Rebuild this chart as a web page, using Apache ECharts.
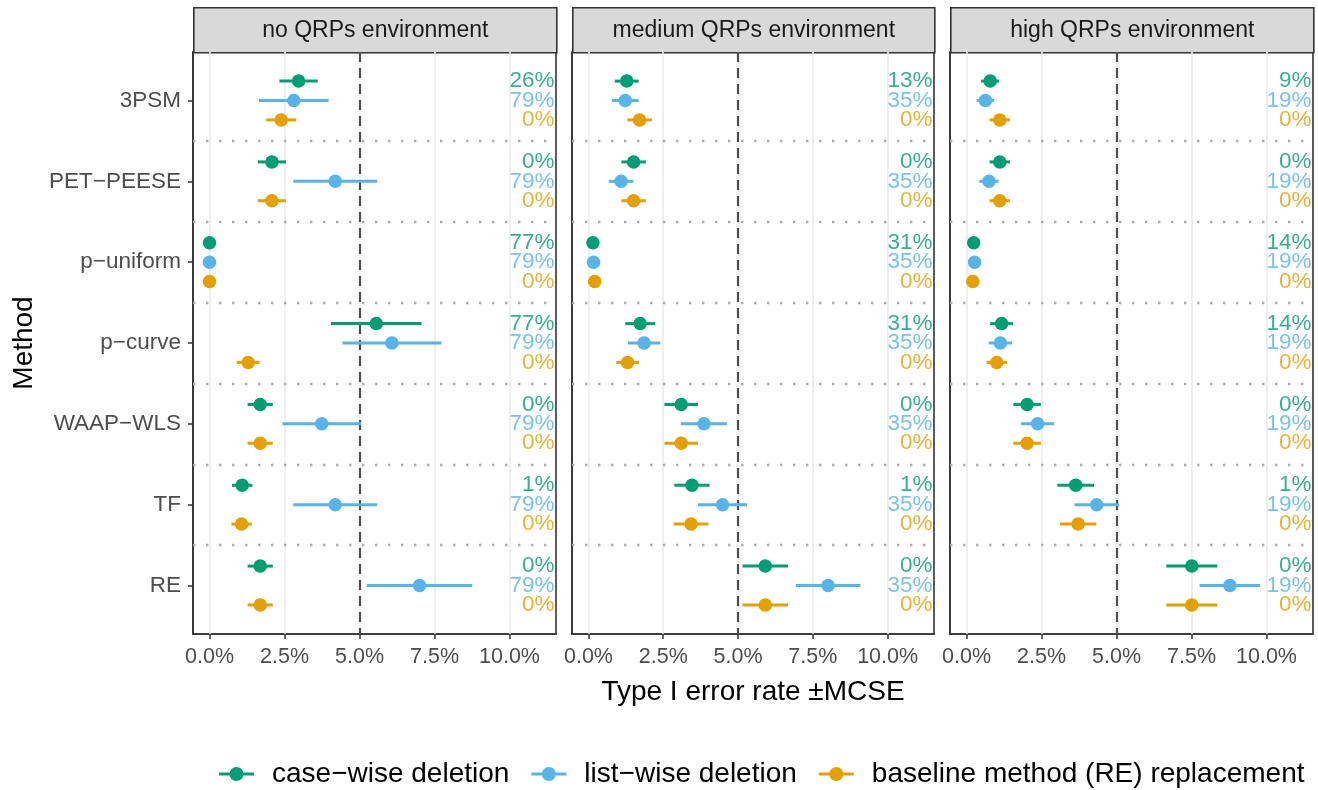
<!DOCTYPE html>
<html>
<head>
<meta charset="utf-8">
<script src="https://cdn.jsdelivr.net/npm/echarts@6/dist/echarts.min.js"></script>
<style>
html,body{margin:0;padding:0;background:#fff;}
#chart{width:1318px;height:790px;}
</style>
</head>
<body>
<div id="chart"></div>
<script>
// ---------- data ----------
const methods = ['3PSM', 'PET\u2212PEESE', 'p\u2212uniform', 'p\u2212curve', 'WAAP\u2212WLS', 'TF', 'RE'];
const environments = ['no QRPs environment', 'medium QRPs environment', 'high QRPs environment'];
const groups = ['case\u2212wise deletion', 'list\u2212wise deletion', 'baseline method (RE) replacement'];
const groupColors = ['#009E73', '#56B4E9', '#E69F00'];
const xTicks = [0, 2.5, 5, 7.5, 10];
const yTicks = [1, 2, 3, 4, 5, 6, 7];

// Type I error rate (%) and MCSE (%), per environment, per handling strategy
const noCaseEst   = [2.97, 2.08, 0.00, 5.56, 1.69, 1.09, 1.69];
const noCaseMcse  = [0.64, 0.47, 0.00, 1.51, 0.42, 0.34, 0.42];
const noListEst   = [2.81, 4.19, 0.00, 6.08, 3.74, 4.19, 7.00];
const noListMcse  = [1.16, 1.40, 0.00, 1.65, 1.31, 1.40, 1.76];
const noBaseEst   = [2.39, 2.08, 0.00, 1.29, 1.69, 1.07, 1.69];
const noBaseMcse  = [0.50, 0.47, 0.00, 0.38, 0.42, 0.34, 0.42];

const medCaseEst  = [1.28, 1.51, 0.15, 1.73, 3.10, 3.46, 5.91];
const medCaseMcse = [0.40, 0.41, 0.10, 0.50, 0.56, 0.59, 0.76];
const medListEst  = [1.23, 1.09, 0.17, 1.86, 3.86, 4.48, 8.01];
const medListMcse = [0.45, 0.41, 0.10, 0.54, 0.77, 0.82, 1.08];
const medBaseEst  = [1.71, 1.51, 0.21, 1.31, 3.10, 3.43, 5.91];
const medBaseMcse = [0.41, 0.41, 0.10, 0.38, 0.56, 0.58, 0.76];

const highCaseEst  = [0.79, 1.11, 0.24, 1.17, 2.02, 3.64, 7.51];
const highCaseMcse = [0.30, 0.34, 0.10, 0.38, 0.46, 0.61, 0.85];
const highListEst  = [0.63, 0.75, 0.27, 1.13, 2.37, 4.34, 8.78];
const highListMcse = [0.29, 0.32, 0.10, 0.39, 0.55, 0.74, 1.01];
const highBaseEst  = [1.11, 1.11, 0.21, 1.01, 2.02, 3.72, 7.51];
const highBaseMcse = [0.34, 0.34, 0.10, 0.34, 0.46, 0.61, 0.85];

// percentage labels shown on the right of each panel
const noCasePct   = [26, 0, 77, 77, 0, 1, 0];
const noListPct   = [79, 79, 79, 79, 79, 79, 79];
const noBasePct   = [0, 0, 0, 0, 0, 0, 0];
const medCasePct  = [13, 0, 31, 31, 0, 1, 0];
const medListPct  = [35, 35, 35, 35, 35, 35, 35];
const medBasePct  = [0, 0, 0, 0, 0, 0, 0];
const highCasePct = [9, 0, 14, 14, 0, 1, 0];
const highListPct = [19, 19, 19, 19, 19, 19, 19];
const highBasePct = [0, 0, 0, 0, 0, 0, 0];

// ---------- assembly ----------
const estimates = [[noCaseEst, noListEst, noBaseEst], [medCaseEst, medListEst, medBaseEst], [highCaseEst, highListEst, highBaseEst]];
const mcses = [[noCaseMcse, noListMcse, noBaseMcse], [medCaseMcse, medListMcse, medBaseMcse], [highCaseMcse, highListMcse, highBaseMcse]];
const pcts = [[noCasePct, noListPct, noBasePct], [medCasePct, medListPct, medBasePct], [highCasePct, highListPct, highBasePct]];

const FONT = '"Liberation Sans", Arial, Helvetica, sans-serif';
const dodge = [-0.24, 0, 0.24];
const LABEL_X = 11.5;
const panels = [{left: 193, width: 363}, {left: 572, width: 362}, {left: 950, width: 363}];
const gridTop = 52, gridBottom = 156;

const grids = [], xAxes = [], yAxes = [], series = [], graphics = [];

panels.forEach((p, k) => {
  grids.push({left: p.left, width: p.width, top: gridTop, bottom: gridBottom, show: true,
    borderColor: '#333333', borderWidth: 1.6, backgroundColor: '#ffffff', containLabel: false});
  xAxes.push({
    type: 'value', gridIndex: k, min: -0.55, max: 11.55,
    axisLine: {show: true, onZero: false, lineStyle: {color: '#333333', width: 1.6}},
    splitLine: {show: false},
    axisTick: {show: true, customValues: xTicks, length: 5, lineStyle: {color: '#333333', width: 1.5}},
    axisLabel: {customValues: xTicks, formatter: v => v.toFixed(1) + '%', fontSize: 21.5,
      color: '#4D4D4D', fontFamily: FONT, margin: 12},
    name: k === 1 ? 'Type I error rate \u00B1MCSE' : '',
    nameLocation: 'middle', nameGap: 44,
    nameTextStyle: {fontSize: 28, color: '#000', fontFamily: FONT}
  });
  yAxes.push({
    type: 'value', gridIndex: k, min: 0.4, max: 7.6, inverse: true,
    axisLine: {show: true, onZero: false, lineStyle: {color: '#333333', width: 1.6}},
    splitLine: {show: false},
    axisTick: {show: k === 0, customValues: yTicks, length: 5, lineStyle: {color: '#333333', width: 1.5}},
    axisLabel: {show: k === 0, customValues: yTicks,
      formatter: v => methods[Math.round(v) - 1] || '', fontSize: 22.5, color: '#4D4D4D',
      fontFamily: FONT, margin: 12},
    name: k === 0 ? 'Method' : '', nameLocation: 'middle', nameGap: 155, nameRotate: 90,
    nameTextStyle: {fontSize: 28, color: '#000', fontFamily: FONT}
  });

  // reference lines (grid lines, category separators, 5% nominal line)
  const mlData = [];
  xTicks.forEach(v => mlData.push({xAxis: v, lineStyle: {color: '#EBEBEB', width: 1.6, type: 'solid'}}));
  for (let i = 1; i < methods.length; i++) {
    mlData.push({yAxis: i + 0.5, lineStyle: {color: '#ABABAB', width: 2.4, type: [2.4, 10.6]}});
  }
  mlData.push({xAxis: 5, lineStyle: {color: '#4D4D4D', width: 2.2, type: [10, 6]}});
  series.push({
    type: 'scatter', xAxisIndex: k, yAxisIndex: k, data: [], silent: true, z: 1,
    markLine: {silent: true, symbol: 'none', label: {show: false}, animation: false, z: 1, data: mlData}
  });

  groups.forEach((g, gi) => {
    const est = estimates[k][gi], se = mcses[k][gi], pc = pcts[k][gi];
    const col = groupColors[gi];
    series.push({
      name: g, type: 'custom', xAxisIndex: k, yAxisIndex: k, z: 3, silent: true,
      itemStyle: {color: col},
      encode: {x: [0, 1], y: 2},
      data: methods.map((m, i) => [est[i] - se[i], est[i] + se[i], i + 1 + dodge[gi]]),
      renderItem: (params, api) => {
        const a = api.coord([api.value(0), api.value(2)]);
        const b = api.coord([api.value(1), api.value(2)]);
        return {type: 'line', shape: {x1: a[0], y1: a[1], x2: b[0], y2: b[1]},
          style: {stroke: col, lineWidth: 3}};
      }
    });
    series.push({
      name: g, type: 'scatter', xAxisIndex: k, yAxisIndex: k, z: 4, silent: true,
      symbol: 'circle', symbolSize: 13.5, itemStyle: {color: col, opacity: 1},
      data: methods.map((m, i) => [est[i], i + 1 + dodge[gi]])
    });
    series.push({
      type: 'scatter', xAxisIndex: k, yAxisIndex: k, z: 5, silent: true,
      symbolSize: 0, itemStyle: {color: col},
      label: {show: true, position: 'left', distance: 0, formatter: prm => prm.value[2] + '%',
        fontSize: 22.5, color: col, fontFamily: FONT},
      data: methods.map((m, i) => [LABEL_X, i + 1 + dodge[gi], pc[i]])
    });
  });

  // facet strip
  graphics.push({
    type: 'group', left: p.left, top: 7, children: [
      {type: 'rect', shape: {x: 0, y: 0, width: p.width, height: 45},
        style: {fill: '#D9D9D9', stroke: '#333333', lineWidth: 1.6}},
      {type: 'text', x: p.width / 2, y: 22.5,
        style: {text: environments[k], fill: '#1A1A1A', fontSize: 23, fontFamily: FONT,
          align: 'center', verticalAlign: 'middle'}}
    ]
  });
});

const legendIcon = 'path://M0 5.5H35V8.5H0Z M24.5 7A7 7 0 1 1 10.5 7A7 7 0 1 1 24.5 7Z';

const chart = echarts.init(document.getElementById('chart'), null, {renderer: 'canvas'});
chart.setOption({
  animation: false,
  backgroundColor: '#ffffff',
  textStyle: {fontFamily: FONT},
  grid: grids,
  xAxis: xAxes,
  yAxis: yAxes,
  legend: {
    data: groups.map(g => ({name: g, icon: legendIcon})),
    left: 219, top: 760, width: 1098, itemWidth: 35, itemHeight: 14, itemGap: 22,
    selectedMode: false, padding: 0,
    textStyle: {fontSize: 28, color: '#000', fontFamily: FONT, padding: [0, 0, 0, 13]}
  },
  graphic: graphics,
  series: series
});
</script>
</body>
</html>
